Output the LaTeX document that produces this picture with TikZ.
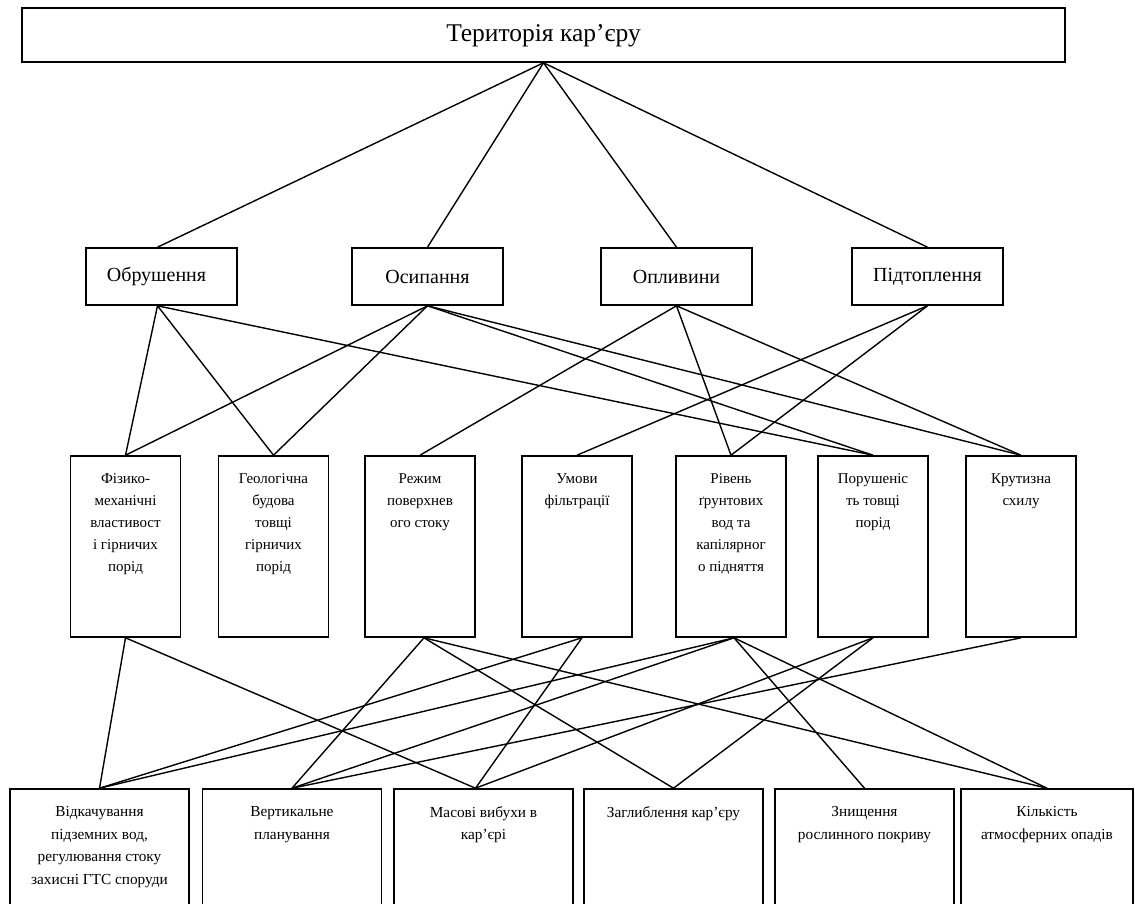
\documentclass[tikz,border=0pt]{standalone}
\usepackage{fontspec}
\setmainfont{Liberation Serif}
\begin{document}
\begin{tikzpicture}[x=1pt,y=-1pt,
  conn/.style={line width=1.4pt},
  boxbase/.style={draw, line width=1.6pt, inner sep=0pt, rectangle},
  topbox/.style={boxbase, minimum width=1043pt, minimum height=54pt},
  midbox/.style={boxbase, minimum width=151pt, minimum height=57pt, font=\fontsize{20}{24}\selectfont},
  tallbox/.style={boxbase, minimum width=110pt, minimum height=181pt},
  lowbox/.style={boxbase, minimum width=179pt, minimum height=140pt},
  talltext/.style={anchor=north, inner sep=0pt, align=center, font=\fontsize{15}{22}\selectfont},
  lowtext/.style={anchor=north, inner sep=0pt, align=center, font=\fontsize{15.3}{22.6}\selectfont}
]
\useasboundingbox (0,0) rectangle (1135,903);
\clip (0,0) rectangle (1135,903);
\fill[white] (0,0) rectangle (1135,903);

% top
\node[topbox] (ter) at (543.5,35) {};
\node[inner sep=0pt, font=\fontsize{25.5}{30}\selectfont] (tert) at ([yshift=-1pt]ter.center) {Територія кар’єру};

% row 2
\node[midbox] (obr) at (161.5,276.5) {};
\node[inner sep=0pt, font=\fontsize{20}{24}\selectfont] (obrt) at ([xshift=-5pt]obr.center) {Обрушення};
\node[midbox] (osy) at (427.5,276.5) {Осипання};
\node[midbox] (opl) at (676.5,276.5) {Опливини};
\node[midbox] (pid) at (927.5,276.5) {Підтоплення};

% row 3
\node[tallbox] (fiz) at (125.5,546.5) {};
\node[tallbox] (geo) at (273.5,546.5) {};
\node[tallbox] (rez) at (420,546.5) {};
\node[tallbox] (umo) at (577,546.5) {};
\node[tallbox] (riv) at (731,546.5) {};
\node[tallbox] (por) at (873,546.5) {};
\node[tallbox] (kru) at (1021,546.5) {};

\node[talltext] (fizt) at ([yshift=-18pt]fiz.north) {Фізико-\\механічні\\властивост\\і гірничих\\порід};
\node[talltext] (geot) at ([yshift=-18pt]geo.north) {Геологічна\\будова\\товщі\\гірничих\\порід};
\node[talltext] (rezt) at ([yshift=-18pt]rez.north) {Режим\\поверхнев\\ого стоку};
\node[talltext] (umot) at ([yshift=-18pt]umo.north) {Умови\\фільтрації};
\node[talltext] (rivt) at ([yshift=-18pt]riv.north) {Рівень\\ґрунтових\\вод та\\капілярног\\о підняття};
\node[talltext] (port) at ([yshift=-18pt]por.north) {Порушеніс\\ть товщі\\порід};
\node[talltext] (krut) at ([yshift=-18pt]kru.north) {Крутизна\\схилу};

% row 4
\node[lowbox] (vid) at (99.5,859) {};
\node[lowbox] (ver) at (292,859) {};
\node[lowbox] (mas) at (483.5,859) {};
\node[lowbox] (zag) at (673.5,859) {};
\node[lowbox] (zny) at (864.5,859) {};
\node[boxbase, minimum width=172pt, minimum height=140pt] (kil) at (1047,859) {};

\node[lowtext] (vidt) at ([yshift=-18pt]vid.north) {Відкачування\\підземних вод,\\регулювання стоку\\захисні ГТС споруди};
\node[lowtext] (vert) at ([yshift=-18pt]ver.north) {Вертикальне\\планування};
\node[lowtext] (mast) at ([yshift=-18pt]mas.north) {Масові вибухи в\\кар’єрі};
\node[lowtext] (zagt) at ([yshift=-18pt]zag.north) {Заглиблення кар’єру};
\node[lowtext] (znyt) at ([yshift=-18pt]zny.north) {Знищення\\рослинного покриву};
\node[lowtext] (kilt) at ([yshift=-18pt]kil.north) {Кількість\\атмосферних опадів};

% connectors top -> row 2
\draw[conn] (ter.south) -- ([xshift=-4pt]obr.north);
\draw[conn] (ter.south) -- (osy.north);
\draw[conn] (ter.south) -- (opl.north);
\draw[conn] (ter.south) -- (pid.north);

% row 2 -> row 3
\draw[conn] ([xshift=-4pt]obr.south) -- (fiz.north);
\draw[conn] ([xshift=-4pt]obr.south) -- (geo.north);
\draw[conn] ([xshift=-4pt]obr.south) -- (por.north);
\draw[conn] (osy.south) -- (fiz.north);
\draw[conn] (osy.south) -- (geo.north);
\draw[conn] (osy.south) -- (por.north);
\draw[conn] (osy.south) -- (kru.north);
\draw[conn] (opl.south) -- (rez.north);
\draw[conn] (opl.south) -- (riv.north);
\draw[conn] (opl.south) -- (kru.north);
\draw[conn] (pid.south) -- (umo.north);
\draw[conn] (pid.south) -- (riv.north);

% row 3 -> row 4
\draw[conn] (fiz.south) -- (vid.north);
\draw[conn] (fiz.south) -- ([xshift=-8pt]mas.north);
\draw[conn] ([xshift=4pt]rez.south) -- (ver.north);
\draw[conn] ([xshift=4pt]rez.south) -- (zag.north);
\draw[conn] ([xshift=4pt]rez.south) -- (kil.north);
\draw[conn] ([xshift=5pt]umo.south) -- (vid.north);
\draw[conn] ([xshift=5pt]umo.south) -- ([xshift=-8pt]mas.north);
\draw[conn] ([xshift=3pt]riv.south) -- (vid.north);
\draw[conn] ([xshift=3pt]riv.south) -- (ver.north);
\draw[conn] ([xshift=3pt]riv.south) -- (zny.north);
\draw[conn] ([xshift=3pt]riv.south) -- (kil.north);
\draw[conn] (por.south) -- ([xshift=-8pt]mas.north);
\draw[conn] (por.south) -- (zag.north);
\draw[conn] (kru.south) -- (ver.north);
\end{tikzpicture}
\end{document}
